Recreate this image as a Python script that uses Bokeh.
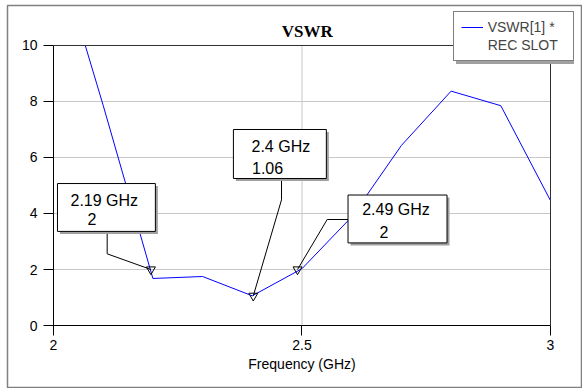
from bokeh.plotting import figure
from bokeh.models import Range1d, FixedTicker, Legend, LegendItem, Label, BoxAnnotation
from bokeh.core.properties import value
from bokeh.embed import file_html
from bokeh.resources import INLINE

# ---- data ----
freq = [2.0, 2.1, 2.2, 2.3, 2.4, 2.5, 2.6, 2.7, 2.8, 2.9, 3.0]
vswr = [13.8, 7.86, 1.68, 1.75, 1.06, 2.03, 3.88, 6.43, 8.37, 7.85, 4.46]

marker_freq = [2.196, 2.402, 2.491]
marker_vswr = [2.0, 1.06, 2.0]
marker_line1 = ["2.19 GHz", "2.4 GHz", "2.49 GHz"]
marker_line2 = ["2", "1.06", "2"]

x_ticks = [2, 2.5, 3]
x_tick_labels = ["2", "2.5", "3"]
y_ticks = [0, 2, 4, 6, 8, 10]
x_min, x_max = 2, 3
y_min, y_max = 0, 10

# ---- annotation box layout (data coordinates) ----
box_left = [2.008, 2.362, 2.5926]
box_right = [2.205, 2.549, 2.7918]
box_top = [5.07, 7.0, 4.66]
box_bottom = [3.36, 5.25, 2.95]
line1_x = [2.0342, 2.3984, 2.6211]
line1_y = [4.48, 6.41, 4.125]
line2_x = [2.0684, 2.3994, 2.656]
line2_y = [3.80, 5.625, 3.357]
leader_xs = [[2.108, 2.108, 2.196], [2.4588, 2.4588, 2.402], [2.5926, 2.5507, 2.491]]
leader_ys = [[3.36, 2.56, 2.0], [5.25, 4.49, 1.06], [3.786, 3.786, 2.0]]


def clip_top(xs, ys, top):
    """Clip a polyline to y <= top (the plot area's upper edge)."""
    out_x, out_y = [], []
    for i in range(len(xs)):
        if i > 0:
            x0, y0, x1, y1 = xs[i - 1], ys[i - 1], xs[i], ys[i]
            if (y0 - top) * (y1 - top) < 0:
                t = (top - y0) / (y1 - y0)
                out_x.append(x0 + t * (x1 - x0))
                out_y.append(top)
        if ys[i] <= top:
            out_x.append(xs[i])
            out_y.append(ys[i])
    return out_x, out_y


W, H = 582, 388
# frame covers the whole chart box (its outline is the chart's outer border);
# the plot area 2..3 GHz x 0..10 sits inside it, with axes fixed at its edges
p = figure(width=W, height=H, output_backend="svg", toolbar_location=None,
           x_range=Range1d(1.907445, 3.062374), y_range=Range1d(-2.214286, 11.428571),
           min_border_left=7, min_border_right=1, min_border_top=5, min_border_bottom=1,
           title=None)
p.background_fill_color = "white"
p.border_fill_color = "white"
p.outline_line_color = "#808080"
p.outline_line_width = 1.5
p.grid.visible = False

FONT = "Liberation Sans"
for ax in (p.xaxis[0], p.yaxis[0]):
    ax.axis_line_color = "black"
    ax.major_tick_line_color = "black"
    ax.major_tick_out = 10
    ax.major_tick_in = 0
    ax.minor_tick_line_color = None
    ax.major_label_text_font = FONT
    ax.major_label_text_font_size = "14px"
    ax.major_label_text_color = "black"
    ax.axis_label_text_font = FONT
    ax.axis_label_text_font_style = "normal"
    ax.axis_label_text_font_size = "14px"
    ax.axis_label_text_color = "black"

p.xaxis[0].ticker = FixedTicker(ticks=x_ticks)
p.xaxis[0].major_label_overrides = {t: l for t, l in zip(x_ticks, x_tick_labels)}
p.xaxis[0].major_label_standoff = 4
p.xaxis[0].axis_label = "Frequency (GHz)"
p.xaxis[0].axis_label_standoff = 3
p.xaxis[0].fixed_location = y_min
p.xaxis[0].bounds = (x_min, x_max)
p.yaxis[0].ticker = FixedTicker(ticks=y_ticks)
p.yaxis[0].major_label_standoff = 6
p.yaxis[0].fixed_location = x_min
p.yaxis[0].bounds = (y_min, y_max)

# grid lines inside the plot area
hy = [t for t in y_ticks if y_min < t < y_max]
vx = [t for t in x_ticks if x_min < t < x_max]
p.segment(x0=[x_min] * len(hy), x1=[x_max] * len(hy), y0=hy, y1=hy,
          line_color="#c8c8c8", line_width=1)
p.segment(x0=vx, x1=vx, y0=[y_min] * len(vx), y1=[y_max] * len(vx),
          line_color="#c8c8c8", line_width=1)

# curve (clipped at the plot area's top edge)
cx, cy = clip_top(freq, vswr, y_max)
line_r = p.line(cx, cy, line_color="#0000ff", line_width=1)
dummy_r = p.line([x_min, x_min], [y_min, y_min], line_alpha=0)

# plot-area border (top and right)
p.line([x_min, x_max, x_max], [y_max, y_max, y_min], line_color="#303030", line_width=1)

# leader lines
p.multi_line(leader_xs, leader_ys, line_color="black", line_width=1)

# marker boxes with shadow
dx, dy = 0.005, 0.09
p.quad(left=[v + dx for v in box_left], right=[v + dx for v in box_right],
       top=[v - dy for v in box_top], bottom=[v - dy for v in box_bottom],
       fill_color="#a0a0a0", line_color=None)
p.quad(left=box_left, right=box_right, top=box_top, bottom=box_bottom,
       fill_color="white", line_color="black", line_width=1)
p.text(line1_x, line1_y, text=marker_line1, text_font=value(FONT), text_font_size="16px",
       text_baseline="middle", text_align="left", text_color="black")
p.text(line2_x, line2_y, text=marker_line2, text_font=value(FONT), text_font_size="16px",
       text_baseline="middle", text_align="left", text_color="black")

# markers
p.scatter(marker_freq, marker_vswr, marker="inverted_triangle", size=9,
          fill_color=None, line_color="black", line_width=1)

# title
p.add_layout(Label(x=299.7, y=356, x_units="screen", y_units="screen", text="VSWR",
                   text_font="Liberation Serif", text_font_style="bold", text_font_size="17px",
                   text_align="center", text_baseline="middle", text_color="black"))

# legend shadow + legend
p.add_layout(BoxAnnotation(left=448.5, right=566.5, top=372.5, bottom=323.5,
                           left_units="screen", right_units="screen",
                           top_units="screen", bottom_units="screen",
                           fill_color="#a0a0a0", fill_alpha=1, line_color=None))
legend = Legend(items=[LegendItem(label="VSWR[1] *", renderers=[line_r]),
                       LegendItem(label="REC SLOT", renderers=[dummy_r])],
                location=(445.7, 326), orientation="vertical",
                border_line_color="black", border_line_width=1,
                background_fill_color="white", background_fill_alpha=1,
                label_text_font=FONT, label_text_font_size="14px",
                glyph_width=22, glyph_height=16, label_height=16, label_width=78,
                spacing=2, padding=7, margin=0, label_standoff=5)
p.add_layout(legend, "center")

open("out.html", "w").write(file_html(p, INLINE))
